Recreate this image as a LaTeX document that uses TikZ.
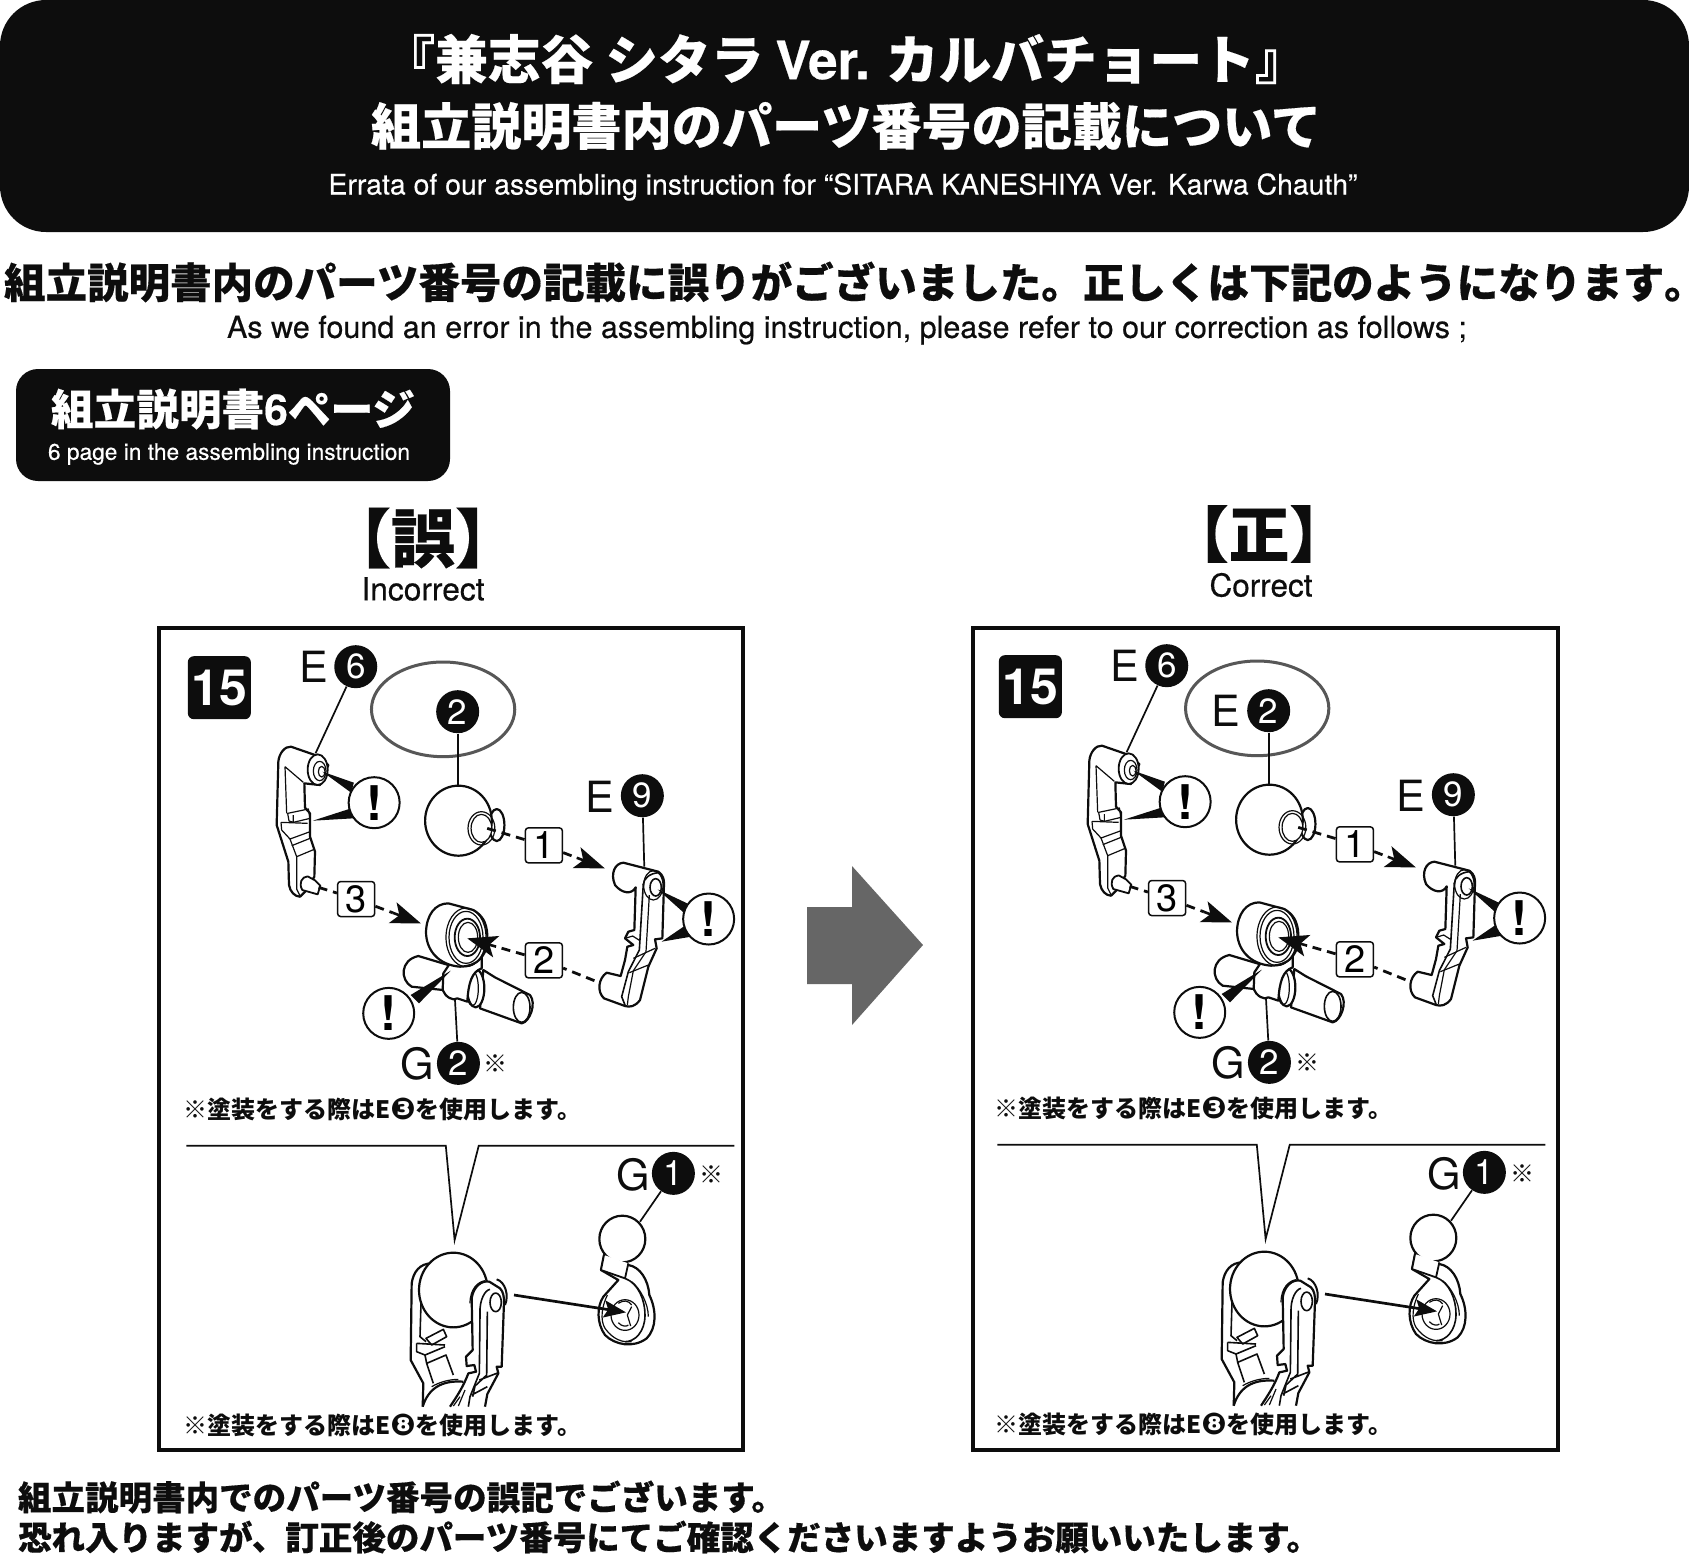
\documentclass[tikz,border=0pt]{standalone}
\usepackage{graphicx}
\usepackage{fontspec}
\usetikzlibrary{arrows.meta,calc}
\setmainfont{Noto Sans CJK JP}
\newfontfamily\hel{TeX Gyre Heros}
\newfontfamily\helm{TeX Gyre Heros}[FakeBold=0.45]
\newfontfamily\symf{DejaVu Sans}
\newcommand\jph{\bfseries\addfontfeature{FakeBold=0.35}}
\newcommand\helh{\hel\bfseries\addfontfeature{FakeBold=0.5}}
\newdimen\pxu \pxu=0.5pt
\newcommand\fitw[2]{\resizebox{#1\pxu}{!}{#2}}
\definecolor{ink}{HTML}{0D0D0D}
\tikzset{
 txt/.style={inner sep=0pt,outer sep=0pt,text=ink},
 wtxt/.style={inner sep=0pt,outer sep=0pt,text=white},
 part/.style={draw=ink,fill=white,line width=1.1pt,line join=round},
 pline/.style={draw=ink,line width=0.6pt,line join=round},
 leader/.style={draw=ink,line width=0.85pt},
 wedge/.style={fill=ink,draw=none},
 numc/.style={circle,fill=ink,text=white,minimum size=21.5pt,inner sep=0pt,font=\hel\fontsize{17.5}{17.5}\selectfont},
 letter/.style={inner sep=0pt,text=ink,font=\hel\fontsize{21.5}{21.5}\selectfont},
 excl/.style={circle,draw=ink,fill=white,line width=1pt,minimum size=25.5pt,inner sep=0pt,font=\hel\bfseries\fontsize{24}{24}\selectfont},
 stepbox/.style={draw=ink,fill=white,rounded corners=1.5pt,line width=0.75pt,minimum width=18.5pt,minimum height=17.5pt,inner sep=0pt,font=\hel\fontsize{19}{19}\selectfont},
 dashlink/.style={draw=ink,line width=1.4pt,dash pattern=on 4.5pt off 3pt},
 tipline/.style={draw=ink,line width=1.3pt,-{Stealth[length=15pt,width=11pt,inset=3.5pt]}},
 frame/.style={draw=ink,line width=1.8pt,fill=white},
 jpnote/.style={inner sep=0pt,text=ink,anchor=west},
 zoomed/.style 2 args={shift={(#1,#2)},x=0.19157pt,y=-0.16667pt},
 cropped/.style 2 args={shift={(#1,#2)},x=0.16667pt,y=-0.16667pt},
 oval/.style={draw=black!66,line width=1.5pt},
}
% #1 name prefix, #2 dx, #3 dy, #4 extra content inside the oval
\newcommand\panel[4]{%
\begin{scope}[zoomed={150+#2}{620+#3}]
 \node[fill=ink,rounded corners=3pt,minimum width=31.5pt,minimum height=31.5pt,inner sep=0pt,text=white,font=\hel\bfseries\fontsize{25}{25}\selectfont] (#1step) at (181,203) {15};
 \node[numc] (#1e6) at (537,140) {6};
 \node[letter] (#1e6l) at (428,140) {E};
 \coordinate (#1e6e) at (432,400);
 \draw[leader] (#1e6) -- (#1e6e);
 \node[numc] (#1e2) at (803,275) {2};
 #4
 \coordinate (#1e2e) at (803,500);
 \draw[leader] (#1e2) -- (#1e2e);
 % sphere
 \draw[part] (905,615) ellipse [x radius=20,y radius=48];
 \draw[part] (805,602) ellipse [x radius=87,y radius=105];
 \draw[pline] (865,625) ellipse [x radius=35,y radius=50];
 \draw[fill=white,pline] (865,625) ellipse [x radius=27,y radius=42];
 \node[numc] (#1e9) at (1285,527) {9};
 \node[letter] (#1e9l) at (1175,530) {E};
 \coordinate (#1e9e) at (1290,740);
 \draw[leader] (#1e9) -- (#1e9e);
\end{scope}
% E6 arm
\begin{scope}[cropped={265+#2}{735+#3}]
 \draw[part] (40,80) .. controls (42,55) and (60,33) .. (78,35) -- (150,60) -- (190,90) -- (165,150) -- (118,145) -- (120,218) -- (135,235) -- (135,305) -- (150,350) -- (148,425) -- (120,470) -- (105,485) .. controls (90,485) and (75,470) .. (72,450) -- (70,380) -- (35,270) -- cycle;
 \draw[pline] (60,95) -- (65,235) (60,95) -- (115,142);
 \draw[pline] (68,235) -- (130,222) -- (135,250) -- (85,262) -- (72,258) -- cycle (85,240) -- (85,262);
 \draw[pline] (48,262) -- (128,265) (48,262) -- (50,285) -- (75,312) -- (135,290);
 \draw[pline] (75,312) -- (95,365) -- (95,462) -- (105,482) (80,332) -- (135,310) (95,365) -- (150,342);
 \draw[part,line width=.9pt] (158,104) ellipse [x radius=30,y radius=46];
 \draw[pline] (164,108) ellipse [x radius=19,y radius=29];
 \draw[pline,fill=white] (170,110) ellipse [x radius=10,y radius=16];
 \draw[part,line width=.9pt] (128,424) .. controls (110,425) and (100,445) .. (112,465) -- (158,478) -- (166,452) -- (150,436) -- cycle;
\end{scope}
% E9 arm
\begin{scope}[cropped={590+#2}{850+#3}]
 \draw[part] (100,38) -- (205,65) .. controls (220,75) and (222,90) .. (222,100) -- (217,265) -- (195,268) -- (200,295) -- (175,350) -- (150,450) .. controls (135,470) and (120,472) .. (105,468) -- (42,445) .. controls (20,425) and (25,385) .. (50,368) -- (92,378) -- (105,330) -- (112,290) -- (130,285) -- (105,265) -- (115,245) -- (133,240) -- (137,112) .. controls (125,135) and (95,130) .. (75,105) .. controls (60,70) and (75,40) .. (100,38) -- cycle;
 \draw[pline,line width=.8pt] (160,105) .. controls (160,85) and (180,70) .. (205,68);
 \draw[pline,line width=.8pt] (160,100) -- (148,300) -- (115,365) -- (95,440) -- (105,465);
 \draw[pline] (178,135) -- (168,305) -- (130,362) -- (115,440) -- (112,465);
 \draw[pline] (195,295) -- (130,325) (175,345) -- (118,368);
 \draw[pline] (105,265) -- (128,258) -- (150,272);
 \draw[pline] (190,106) ellipse [x radius=29,y radius=44];
 \draw[pline,fill=white,line width=.8pt] (197,112) ellipse [x radius=17,y radius=26];
\end{scope}
% G2 part
\begin{scope}[cropped={380+#2}{890+#3}]
 \draw[part] (115,198) -- (215,228) -- (190,300) -- (95,290) .. controls (60,270) and (60,210) .. (115,198) -- cycle;
 \draw[part] (310,240) -- (345,262) -- (450,315) .. controls (470,340) and (450,395) .. (425,400) -- (300,355) -- cycle;
 \draw[pline,line width=.8pt] (425,352) ellipse [x radius=25,y radius=45];
 \draw[part] (287,295) ellipse [x radius=26,y radius=57];
 \draw[pline] (277,295) ellipse [x radius=18,y radius=52];
 \draw[part] (210,220) -- (305,190) -- (305,235) .. controls (275,245) and (265,280) .. (262,335) -- (232,325) .. controls (220,335) and (195,320) .. (188,300) -- (190,250) -- cycle;
 \draw[part] (205,40) -- (280,60) .. controls (305,75) and (320,95) .. (322,135) .. controls (325,190) and (300,228) .. (240,230) .. controls (175,225) and (138,180) .. (138,125) .. controls (140,75) and (165,40) .. (205,40) -- cycle;
 \draw[pline] (258,142) ellipse [x radius=60,y radius=88];
 \draw[pline] (258,142) ellipse [x radius=51,y radius=78];
 \draw[draw=ink,fill=white,line width=.9pt] (262,142) ellipse [x radius=38,y radius=56];
 \draw[pline] (264,142) ellipse [x radius=29,y radius=45];
 \coordinate (#1g2e) at (225,330);
\end{scope}
\begin{scope}[zoomed={150+#2}{620+#3}]
 \node[numc] (#1g2) at (805,1330) {2};
 \node[letter] (#1g2l) at (698,1330) {G};
 \node[inner sep=0pt,text=ink,font=\fontsize{12}{12}\selectfont] (#1g2m) at (903,1330) {※};
 \draw[leader] (#1g2) -- (#1g2e);
 \draw[wedge] (450,455) -- (532,488) -- (525,518) -- cycle;
 \draw[wedge] (425,602) -- (525,565) -- (530,595) -- cycle;
 \node[excl] (#1x1) at (585,548) {!};
 \draw[wedge] (1325,808) -- (1402,850) -- (1395,880) -- cycle;
 \draw[wedge] (1335,965) -- (1395,918) -- (1412,950) -- cycle;
 \node[excl] (#1x2) at (1458,897) {!};
 \draw[wedge] (785,1052) -- (680,1125) -- (702,1150) -- cycle;
 \node[excl] (#1x3) at (623,1180) {!};
 \coordinate (#1a1) at (880,625);
 \coordinate (#1t1) at (1187,745);
 \coordinate (#1a2) at (1160,1082);
 \coordinate (#1t2) at (828,955);
 \coordinate (#1a3) at (440,802);
 \coordinate (#1t3) at (707,910);
 \node[stepbox] (#1b1) at (1028,676) {1};
 \node[stepbox] (#1b2) at (1028,1021) {2};
 \node[stepbox] (#1b3) at (538,837) {3};
 \draw[dashlink] (#1a1) -- (#1b1);
 \draw[dashlink,shorten >=15pt] (#1b1) -- (#1t1);
 \draw[tipline] ($(#1t1)!15pt!(#1b1)$) -- (#1t1);
 \draw[dashlink] (#1a2) -- (#1b2);
 \draw[dashlink,shorten >=15pt] (#1b2) -- (#1t2);
 \draw[tipline] ($(#1t2)!15pt!(#1b2)$) -- (#1t2);
 \draw[dashlink] (#1a3) -- (#1b3);
 \draw[dashlink,shorten >=15pt] (#1b3) -- (#1t3);
 \draw[tipline] ($(#1t3)!15pt!(#1b3)$) -- (#1t3);
\end{scope}
% notes
\node[jpnote] (#1n1) at (183+#2,1109+#3) {\fitw{398}{\bfseries ※塗装をする際はE{\scalebox{1.25}{\raisebox{-.06em}{\symf ❸}}}を使用します。}};
\node[jpnote] (#1n2) at (183+#2,1425+#3) {\fitw{398}{\bfseries ※塗装をする際はE{\scalebox{1.25}{\raisebox{-.06em}{\symf ❽}}}を使用します。}};
\begin{scope}[zoomed={150+#2}{1110+#3}]
 \draw[leader] (95,107) -- (772,107) -- (795,390) -- (858,107) -- (1525,107);
 \node[numc] (#1g1) at (1366,190) {1};
 \node[letter] (#1g1l) at (1260,195) {G};
 \node[inner sep=0pt,text=ink,font=\fontsize{12}{12}\selectfont] (#1g1m) at (1466,195) {※};
\end{scope}
% assembly close-up
\begin{scope}[cropped={390+#2}{1240+#3}]
 \draw[draw=ink,line width=1.1pt] (125,70) .. controls (90,70) and (70,95) .. (65,130) -- (62,360) -- (100,430) -- (98,500);
 \draw[pline,line width=.8pt] (95,120) -- (90,290) -- (108,305);
 \draw[pline,line width=.8pt] (108,295) -- (160,268) -- (170,290) -- (125,315) -- cycle;
 \draw[pline,line width=.8pt] (80,310) -- (165,315) (80,310) -- (80,335) -- (105,345) -- (165,320);
 \draw[pline,line width=.8pt] (105,345) -- (110,370) -- (130,430) (110,370) -- (168,345) -- (190,405);
 \draw[draw=ink,line width=1.1pt] (98,500) .. controls (115,445) and (155,420) .. (220,425);
 \draw[pline] (125,440) .. controls (150,425) and (180,418) .. (205,418);
 \draw[draw=ink,line width=1pt] (320,118) .. controls (345,125) and (358,165) .. (345,195);
 \draw[part] (190,150) ellipse [x radius=103,y radius=112];
 \draw[part] (285,500) -- (292,462) -- (325,400) -- (320,380) -- (335,380) -- (342,185) .. controls (342,170) and (340,155) .. (330,145) -- (298,125) .. controls (275,120) and (250,140) .. (245,175) -- (248,330) -- (228,350) -- (230,378) -- (253,375) -- (258,395) -- (235,400) .. controls (220,440) and (200,470) .. (180,500);
 \draw[pline] (240,190) .. controls (240,145) and (265,125) .. (285,122);
 \draw[pline,line width=.8pt] (270,220) -- (268,400) -- (240,470) -- (235,500) (270,220) .. controls (268,180) and (285,150) .. (300,148);
 \draw[pline,line width=.8pt] (292,215) -- (290,405) -- (255,438) -- (248,470) (325,398) -- (268,420) (292,440) -- (245,465);
 \draw[pline] (210,470) -- (190,498) (225,450) -- (205,498);
 \draw[pline,line width=.8pt,fill=white] (317,187) ellipse [x radius=17,y radius=28];
\end{scope}
% G1 part
\begin{scope}[cropped={590+#2}{1200+#3}]
 \coordinate (#1a0) at (-228,285);
 \coordinate (#1t0) at (108,337);
 \coordinate (#1g1e) at (150,65);
 \draw[leader] (#1g1) -- (#1g1e);
 \draw[part] (115,195) .. controls (150,200) and (175,240) .. (178,285) .. controls (200,330) and (200,385) .. (170,415) .. controls (130,445) and (75,435) .. (45,405) .. controls (20,370) and (20,320) .. (40,290) -- (85,240) -- (33,210) -- (42,165) -- cycle;
 \draw[part] (97,117) ellipse [x radius=69,y radius=70];
 \draw[part,line width=.9pt] (42,165) -- (33,210) -- (105,235) -- (115,190);
 \draw[pline,line width=.8pt] (105,235) .. controls (145,250) and (165,300) .. (165,345) .. controls (165,395) and (135,425) .. (105,425);
 \draw[pline] (125,245) .. controls (150,265) and (175,310) .. (175,350);
 \draw[pline] (45,385) .. controls (70,420) and (100,428) .. (125,425) (52,285) .. controls (35,320) and (30,360) .. (45,385);
 \draw[pline] (105,345) ellipse [x radius=42,y radius=46];
 \draw[pline] (85,310) .. controls (100,300) and (115,300) .. (125,315) (125,320) -- (112,345) -- (122,378) (85,368) .. controls (95,380) and (110,380) .. (115,375);
 \draw[draw=ink,line width=1.35pt,-{Stealth[length=11pt,width=8.5pt,inset=2pt]}] (#1a0) -- (#1t0);
\end{scope}
}
\begin{document}
\begin{tikzpicture}[x=0.5pt,y=-0.5pt]
\useasboundingbox (0,0) rectangle (1689,1554);
\fill[white] (0,0) rectangle (1689,1554);
% banner
\fill[ink,rounded corners=23pt] (0,0) rectangle (1689,232);
\node[wtxt] (t1) at (845,59) {\fitw{925}{\jph\fontsize{24}{24}\selectfont 『兼志谷 シタラ {\helh Ver.} カルバチョート』}};
\node[wtxt] (t2) at (846,126) {\fitw{950}{\jph\fontsize{24}{24}\selectfont 組立説明書内のパーツ番号の記載について}};
\node[wtxt] (t3) at (843,187) {\fitw{1029}{\helm\fontsize{13}{13}\selectfont Errata of our assembling instruction for “SITARA KANESHIYA Ver. Karwa Chauth”}};
\node[txt,anchor=west] (h1) at (4,282) {\fitw{1681}{\jph\fontsize{20}{20}\selectfont 組立説明書内のパーツ番号の記載に誤りがございました。正しくは下記のようになります｡}};
\node[txt] (h2) at (847,330) {\fitw{1240}{\helm\fontsize{14}{14}\selectfont As we found an error in the assembling instruction, please refer to our correction as follows ;}};
% page badge
\fill[ink,rounded corners=11pt] (16,369) rectangle (450,481);
\node[wtxt] (b1) at (233,409) {\fitw{364}{\jph\fontsize{20}{20}\selectfont 組立説明書{\helh 6}ページ}};
\node[wtxt] (b2) at (229,454) {\fitw{362}{\helm\fontsize{12}{12}\selectfont 6 page in the assembling instruction}};
% headings
\node[txt] (w1) at (423,538) {\fitw{192}{\jph\fontsize{32}{32}\selectfont 【誤】}};
\node[txt] (w2) at (423,589) {\fitw{123}{\helm\fontsize{14}{14}\selectfont Incorrect}};
\node[txt] (c1) at (1259,534) {\fitw{182}{\jph\fontsize{32}{32}\selectfont 【正】}};
\node[txt] (c2) at (1261,585) {\fitw{103}{\helm\fontsize{14}{14}\selectfont Correct}};
% frames
\draw[frame] (159,628) rectangle (743,1450);
\draw[frame] (973,628) rectangle (1558,1450);
% big arrow
\fill[black!60] (807,907) -- (852,907) -- (852,866) -- (923,945) -- (852,1025) -- (852,984) -- (807,984) -- cycle;
% panels
\panel{L}{0}{0}{\draw[oval] (765,268) ellipse [x radius=187,y radius=142];}
\panel{R}{811}{-1}{\node[letter] (Re2l) at (691,276) {E};\draw[oval] (773,268) ellipse [x radius=187,y radius=142];}
% bottom text
\node[txt,anchor=west] (f1) at (18,1497) {\fitw{767}{\jph\fontsize{16}{16}\selectfont 組立説明書内でのパーツ番号の誤記でございます。}};
\node[txt,anchor=west] (f2) at (18,1537) {\fitw{1302}{\jph\fontsize{16}{16}\selectfont 恐れ入りますが、訂正後のパーツ番号にてご確認くださいますようお願いいたします。}};
\end{tikzpicture}
\end{document}
